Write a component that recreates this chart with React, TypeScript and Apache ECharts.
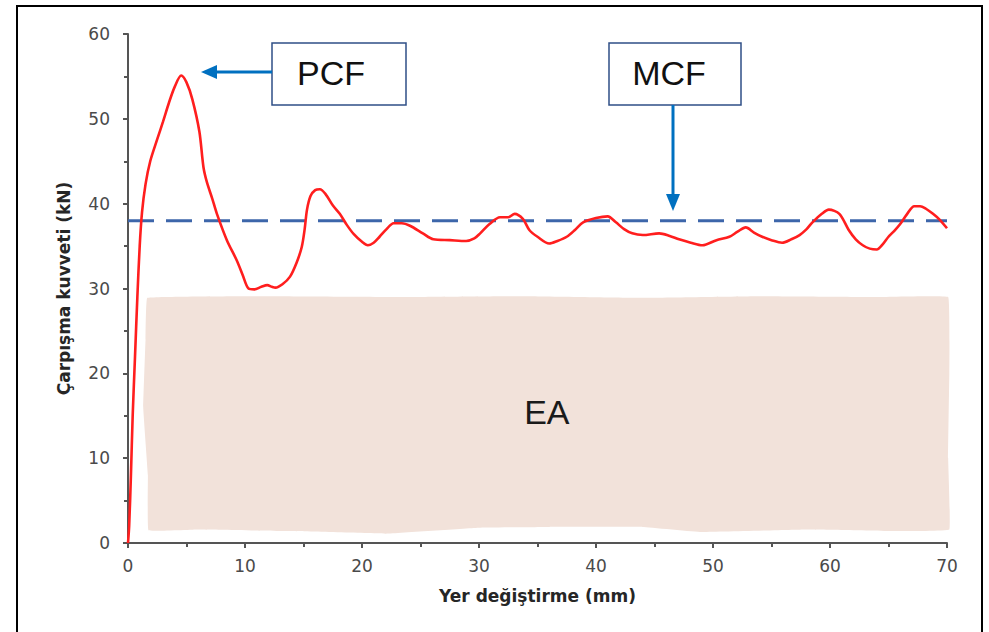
import React, { useEffect, useRef } from "react";
import * as echarts from "echarts";

// Displacement (mm) and crush force (kN) of the measured curve
const displacement = [
  0, 0.1, 0.25, 0.4, 0.6, 0.8, 1.0, 1.2, 1.5, 1.9, 2.5, 3.0, 3.5, 4.0, 4.55, 5.0, 5.5, 6.1, 6.45, 6.75,
  7.2, 7.6, 8.45, 9.3, 9.8, 10.3, 10.8, 11.4, 11.9, 12.3, 12.6, 13.2, 13.85, 14.4, 14.85, 15.1, 15.3, 15.6,
  16.0, 16.4, 16.9, 17.5, 18.1, 18.7, 19.3, 20.0, 20.5, 21.0, 21.5, 22.1, 22.7, 23.4, 24.1, 25.2, 26.1,
  27.5, 28.9, 29.6, 30.1, 30.9, 31.8, 32.5, 33.05, 33.75, 34.3, 35.0, 36.0, 36.7, 37.5, 38.2, 38.9, 40.0,
  41.0, 41.7, 42.4, 43.1, 44.0, 45.4, 46.3, 47.1, 48.1, 49.1, 50.3, 51.4, 52.1, 52.8, 53.5, 54.2, 55.0,
  55.9, 56.7, 57.4, 58.0, 58.5, 59.3, 59.9, 60.8, 61.6, 62.2, 62.8, 63.4, 64.0, 64.5, 65.0, 65.5, 66.0,
  66.6, 67.2, 67.7, 68.2, 68.8, 69.3, 70.0,
];
const crushForce = [
  0, 2, 8, 15, 22, 29, 35, 39, 42.3, 45.0, 47.6, 49.7, 51.9, 53.8, 55.1, 54.3, 52.3, 48.5, 44.3, 42.5,
  40.6, 38.8, 35.7, 33.3, 31.6, 30.0, 29.9, 30.2, 30.4, 30.2, 30.1, 30.5, 31.4, 33.0, 34.9, 37.0, 39.3, 40.9,
  41.6, 41.7, 41.1, 39.8, 38.8, 37.5, 36.4, 35.5, 35.1, 35.4, 36.1, 37.0, 37.7, 37.7, 37.4, 36.5, 35.8,
  35.7, 35.6, 35.9, 36.5, 37.6, 38.4, 38.4, 38.8, 38.2, 36.9, 36.1, 35.3, 35.6, 36.1, 36.9, 37.8, 38.3,
  38.5, 37.8, 37.0, 36.5, 36.3, 36.5, 36.2, 35.8, 35.4, 35.1, 35.7, 36.1, 36.7, 37.2, 36.6, 36.1, 35.7,
  35.4, 35.8, 36.3, 37.0, 37.8, 38.8, 39.3, 38.8, 36.9, 35.8, 35.1, 34.7, 34.6, 35.2, 36.1, 36.8, 37.6,
  38.8, 39.7, 39.7, 39.4, 38.8, 38.2, 37.1,
];

// Mean crush force level (kN) over the displacement range
const meanCrushForce = 38;
const meanRange = [0, 70];

// Outline of the absorbed-energy region (mm, kN)
const eaOutlineX = [1.65, 12, 24, 34, 44, 54, 64, 70.1, 70.2, 70.1, 70.2, 66, 58, 49, 44, 36, 30, 22, 14, 6, 1.75, 1.7, 1.3, 1.5];
const eaOutlineY = [28.9, 29.1, 29.0, 29.1, 28.9, 29.1, 29.0, 29.0, 20, 10, 1.6, 1.4, 1.6, 1.3, 1.9, 1.9, 1.8, 1.1, 1.4, 1.6, 1.5, 8, 16, 24];
const eaLabelPos = [35.8, 15.4];

const xTicks = { min: 0, max: 70, interval: 10 };
const yTicks = { min: 0, max: 60, interval: 10 };

const axisFont = "'DejaVu Sans', 'Liberation Sans', Arial, sans-serif";
const boxFont = "'Liberation Sans', Arial, sans-serif";

export default function App() {
  const ref = useRef<HTMLDivElement>(null);

  useEffect(() => {
    if (!ref.current) return;
    const chart = echarts.init(ref.current, undefined, { renderer: "svg" });

    const curve = displacement.map((x, i) => [x, crushForce[i]]);
    const meanLine = meanRange.map((x) => [x, meanCrushForce]);

    const axisCommon = {
      axisLine: { show: true, lineStyle: { color: "#555555", width: 2 } },
      axisTick: { show: true, length: 5, lineStyle: { color: "#555555", width: 2 } },
      minorTick: { show: true, splitNumber: 2, length: 4, lineStyle: { color: "#555555", width: 2 } },
      splitLine: { show: false },
      nameTextStyle: { fontFamily: axisFont, fontWeight: "bold", fontSize: 17, color: "#262626" },
    };

    chart.setOption({
      animation: false,
      backgroundColor: "#ffffff",
      grid: { left: 128, right: 42, top: 34, bottom: 89 },
      xAxis: {
        type: "value",
        ...xTicks,
        ...axisCommon,
        name: "Yer değiştirme (mm)",
        nameLocation: "middle",
        nameGap: 44,
        axisLabel: { margin: 14, fontFamily: axisFont, fontSize: 17, color: "#4a4a4a" },
      },
      yAxis: {
        type: "value",
        ...yTicks,
        ...axisCommon,
        name: "Çarpışma kuvveti (kN)",
        nameLocation: "middle",
        nameGap: 56,
        axisLabel: { margin: 18, fontFamily: axisFont, fontSize: 17, color: "#4a4a4a" },
      },
      series: [
        {
          type: "custom",
          name: "EA",
          silent: true,
          z: 1,
          data: [[eaLabelPos[0], eaLabelPos[1]]],
          renderItem: (params: any, api: any) => {
            const pts = eaOutlineX.map((x, i) => api.coord([x, eaOutlineY[i]]));
            const c = api.coord([api.value(0), api.value(1)]);
            return {
              type: "group",
              children: [
                {
                  type: "polygon",
                  shape: { points: pts, smooth: 0.05 },
                  style: { fill: "#f2e2da", stroke: "none" },
                },
                {
                  type: "text",
                  x: c[0],
                  y: c[1],
                  style: {
                    text: "EA",
                    fontFamily: boxFont,
                    fontSize: 34,
                    fill: "#1a1a1a",
                    align: "center",
                    verticalAlign: "middle",
                  },
                },
              ],
            };
          },
        },
        {
          type: "line",
          name: "MCF",
          data: meanLine,
          symbol: "none",
          z: 2,
          lineStyle: { color: "#3d66aa", width: 3, type: [26, 12] },
        },
        {
          type: "line",
          name: "Kuvvet",
          data: curve,
          symbol: "none",
          smooth: 0.3,
          z: 3,
          lineStyle: { color: "#ff1e1e", width: 2.6 },
        },
      ],
      graphic: [
        // outer frame
        {
          type: "rect",
          silent: true,
          shape: { x: 17, y: 6, width: 965, height: 700 },
          style: { fill: "none", stroke: "#000000", lineWidth: 2 },
        },
        // PCF callout
        {
          type: "rect",
          shape: { x: 272, y: 43, width: 134, height: 62 },
          style: { fill: "#ffffff", stroke: "#2f4f86", lineWidth: 1.5 },
        },
        {
          type: "text",
          x: 331,
          y: 73,
          style: { text: "PCF", fontFamily: boxFont, fontSize: 34, fill: "#111111", align: "center", verticalAlign: "middle" },
        },
        {
          type: "line",
          shape: { x1: 272, y1: 72, x2: 214, y2: 72 },
          style: { stroke: "#0070c0", lineWidth: 3 },
        },
        {
          type: "polygon",
          shape: { points: [[201, 72], [217, 65], [217, 79]] },
          style: { fill: "#0070c0" },
        },
        // MCF callout
        {
          type: "rect",
          shape: { x: 609, y: 43, width: 132, height: 62 },
          style: { fill: "#ffffff", stroke: "#2f4f86", lineWidth: 1.5 },
        },
        {
          type: "text",
          x: 669,
          y: 73,
          style: { text: "MCF", fontFamily: boxFont, fontSize: 34, fill: "#111111", align: "center", verticalAlign: "middle" },
        },
        {
          type: "line",
          shape: { x1: 673, y1: 105, x2: 673, y2: 197 },
          style: { stroke: "#0070c0", lineWidth: 3 },
        },
        {
          type: "polygon",
          shape: { points: [[673, 211], [666, 194], [680, 194]] },
          style: { fill: "#0070c0" },
        },
      ],
    });

    return () => chart.dispose();
  }, []);

  return (
    <div
      ref={ref}
      style={{ position: "absolute", left: 0, top: 0, width: 989, height: 632 }}
    />
  );
}
